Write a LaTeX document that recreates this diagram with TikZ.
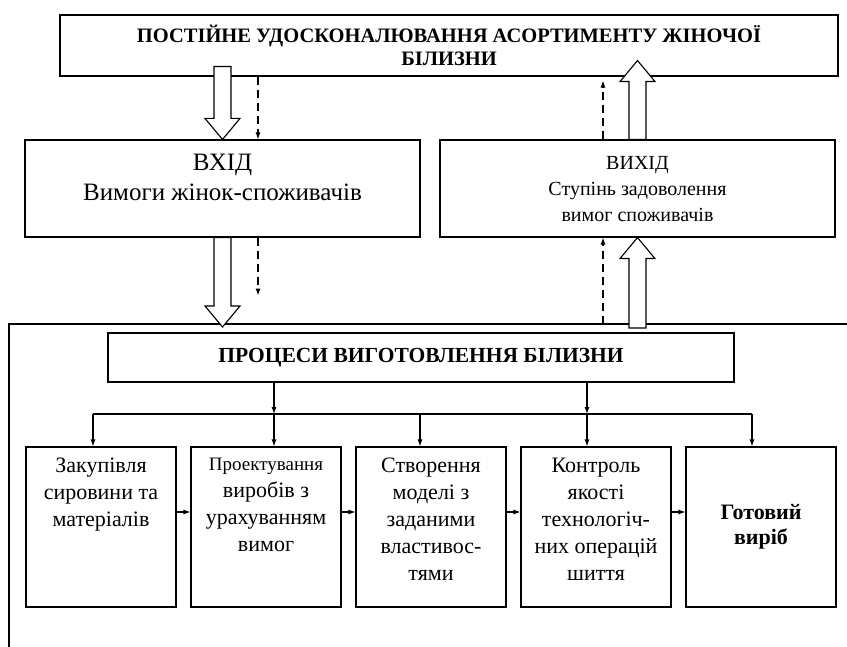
\documentclass[tikz,border=0pt]{standalone}
\usepackage{fontspec}
\setmainfont{Liberation Serif}
\usetikzlibrary{positioning,arrows.meta,calc}

% hollow block arrow from #1 (tail) to #2 (tip)
\newcommand{\fatarrow}[2]{%
  \filldraw[fat] let \p1=(#1), \p2=(#2), \n1={ifthenelse(\y2<\y1,1,-1)} in
    ({\x1-8.5pt},\y1) -- ({\x1-8.5pt},{\y2+\n1*21pt}) -- ({\x1-17.5pt},{\y2+\n1*21pt})
    -- (\x1,\y2) -- ({\x1+17.5pt},{\y2+\n1*21pt}) -- ({\x1+8.5pt},{\y2+\n1*21pt})
    -- ({\x1+8.5pt},\y1) -- cycle;}

\begin{document}
\begin{tikzpicture}[x=1pt, y=-1pt, line width=1.1pt, node distance=165pt,
    box/.style={draw, rectangle, inner sep=0pt},
    blk/.style={box, minimum width=150pt, minimum height=160pt},
    txt/.style={align=center, inner sep=0pt},
    arr/.style={-{Latex[length=7pt,width=5pt]}},
    dasharr/.style={arr, dash pattern=on 8pt off 5pt},
    fat/.style={fill=white, draw, line join=miter}]
    \useasboundingbox (0,0) rectangle (847,647);

    \node[box, minimum width=778pt, minimum height=61pt, align=center,
          font=\fontsize{20.5}{23}\selectfont\bfseries] (top) at (449,45.5)
          {ПОСТІЙНЕ УДОСКОНАЛЮВАННЯ АСОРТИМЕНТУ ЖІНОЧОЇ\\БІЛИЗНИ};

    \node[box, minimum width=395pt, minimum height=97pt] (inp) at (222.5,188.5) {};
    \node[txt, below=14pt of inp.north, font=\fontsize{25}{30}\selectfont] (inptext)
          {ВХІД\\Вимоги жінок-споживачів};
    \node[box, minimum width=395pt, minimum height=97pt] (out) at (637.5,188.5) {};
    \node[txt, below=16pt of out.north, font=\fontsize{20}{26}\selectfont] (outtext)
          {ВИХІД\\Ступінь задоволення\\вимог споживачів};

    % frame round the production part
    \coordinate (fr) at (9,324);
    \draw ([xshift=838pt]fr) -- (fr) -- ([yshift=-323pt]fr);

    \node[box, minimum width=626pt, minimum height=49pt,
          font=\fontsize{21.5}{24}\selectfont\bfseries] (proc) at (421,357.5)
          {ПРОЦЕСИ ВИГОТОВЛЕННЯ БІЛИЗНИ};

    \node[blk] (b1) at (101,527) {};
    \node[blk, right of=b1] (b2) {};
    \node[blk, right of=b2] (b3) {};
    \node[blk, right of=b3] (b4) {};
    \node[blk, right of=b4, align=center, font=\fontsize{22}{25}\selectfont\bfseries] (b5)
          {Готовий\\виріб};

    \foreach \b/\t in {b1/{Закупівля\\сировини та\\матеріалів},
                       b2/{{\fontsize{19}{27}\selectfont Проектування}\\виробів з\\урахуванням\\вимог},
                       b3/{Створення\\моделі з\\заданими\\властивос-\\тями},
                       b4/{Контроль\\якості\\технологіч-\\них операцій\\шиття}}
        \node[txt, below=11pt of \b.north, font=\fontsize{22}{27}\selectfont] {\t};

    % block arrows
    \fatarrow{$(inp.north |- top.south)+(0,-10)$}{inp.north}
    \fatarrow{out.north}{$(out.north |- top.south)+(0,-16)$}
    \fatarrow{inp.south}{$(inp.south |- fr)+(0,3)$}
    \fatarrow{$(out.south |- fr)+(0,4)$}{out.south}

    % feedback (dashed)
    \draw[dasharr] ([xshift=35.5pt]inp.north |- top.south) -- ([xshift=35.5pt]inp.north);
    \draw[dasharr] ([xshift=35.5pt]inp.south) -- ([xshift=35.5pt,yshift=-58pt]inp.south);
    \draw[dasharr] ([xshift=-34.5pt]out.north) -- ([xshift=-34.5pt,yshift=-4pt]out.north |- top.south);
    \draw[dasharr] ([xshift=-34.5pt]out.south |- fr) -- ([xshift=-34.5pt]out.south);

    % distribution to the stages
    \coordinate (bus) at (0,414);
    \draw ([xshift=-8pt]b1.north |- bus) -- ([xshift=-9pt]b5.north |- bus);
    \foreach \b/\s in {b2/8, b4/-9}
        \draw[arr] ([xshift=\s pt]\b.north |- proc.south) -- ([xshift=\s pt]\b.north |- bus);
    \foreach \b/\s in {b1/-8, b2/8, b3/-11, b4/-9, b5/-9}
        \draw[arr] ([xshift=\s pt]\b.north |- bus) -- ([xshift=\s pt]\b.north);
    \foreach \a/\b in {b1/b2, b2/b3, b3/b4, b4/b5}
        \draw[arr] ([yshift=15pt]\a.east) -- ([yshift=15pt]\b.west);
\end{tikzpicture}
\end{document}
